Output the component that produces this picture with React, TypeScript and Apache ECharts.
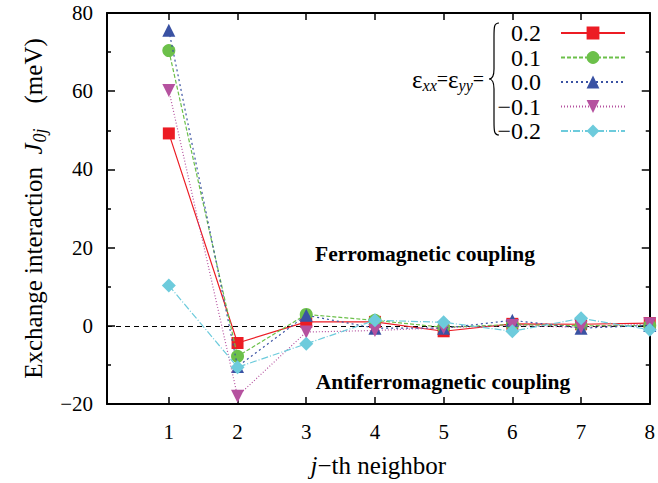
import React, { useEffect, useRef } from "react";
import * as echarts from "echarts";

const neighbors = [1, 2, 3, 4, 5, 6, 7, 8];
const strainLabels = ["0.2", "0.1", "0.0", "\u22120.1", "\u22120.2"];
const jStrainP02 = [49.2, -4.4, 1.0, 1.0, -1.4, 0.5, 0.4, 0.7];
const jStrainP01 = [70.4, -7.8, 2.9, 1.4, -0.4, 0.3, 0.0, 0.1];
const jStrain00 = [75.6, -10.4, 2.7, -0.6, -0.6, 1.4, -0.6, 0.1];
const jStrainM01 = [60.2, -18.0, -1.6, -1.2, -0.5, 0.1, -0.4, 0.5];
const jStrainM02 = [10.3, -10.6, -4.6, 1.4, 0.9, -1.4, 1.9, -1.0];
const xTicks = [1, 2, 3, 4, 5, 6, 7, 8];

const FONT = "Liberation Serif";

const seriesStyles = [
  { color: "#ec1c24", symbol: "rect", size: 12, rotate: 0, dash: "solid" as any },
  { color: "#6cc04a", symbol: "circle", size: 13, rotate: 0, dash: [4, 2] },
  { color: "#3a52a3", symbol: "triangle", size: 13, rotate: 0, dash: [2, 3] },
  { color: "#b5529f", symbol: "triangle", size: 13, rotate: 180, dash: [1, 2] },
  { color: "#6dcbdc", symbol: "diamond", size: 14, rotate: 0, dash: [7, 2, 1, 2] },
];

let braceRegistered = false;
function registerBrace() {
  if (braceRegistered) return;
  const d =
    "M10,0 C5,0 5,4 5,14 L5,46 C5,52 3,56 0,56 C3,56 5,60 5,66 L5,98 C5,108 5,112 10,112";
  echarts.graphic.registerShape("brace", (echarts.graphic as any).extendPath(d, {}));
  braceRegistered = true;
}

export default function App() {
  const ref = useRef<HTMLDivElement>(null);
  useEffect(() => {
    if (!ref.current) return;
    registerBrace();
    const chart = echarts.init(ref.current, null, { renderer: "svg" });
    const allData = [jStrainP02, jStrainP01, jStrain00, jStrainM01, jStrainM02];
    const series: any[] = allData.map((vals, i) => {
      const st = seriesStyles[i];
      const s: any = {
        name: strainLabels[i],
        type: "line",
        xAxisIndex: 0,
        yAxisIndex: 0,
        data: neighbors.map((n, k) => [n, vals[k]]),
        symbol: st.symbol,
        symbolSize: st.size,
        symbolRotate: st.rotate,
        lineStyle: { color: st.color, width: 1.2, type: st.dash },
        itemStyle: { color: st.color },
        z: 3 + i,
      };
      if (i === 0) {
        s.markLine = {
          silent: true,
          symbol: ["none", "none"],
          label: { show: false },
          lineStyle: { color: "#000", type: [5, 4], width: 1.2 },
          data: [{ yAxis: 0 }],
          z: 1,
        };
      }
      return s;
    });

    const axisLineStyle = { color: "#000", width: 2 };
    const tickStyle = { color: "#000", width: 1.5 };

    chart.setOption({
      animation: false,
      textStyle: { fontFamily: FONT },
      grid: { left: 107, right: 4, top: 13, bottom: 79 },
      xAxis: [
        {
          type: "value",
          min: 0.1,
          max: 8,
          position: "bottom",
          axisLine: { show: true, onZero: false, lineStyle: axisLineStyle },
          axisTick: { show: true, inside: true, length: 7, lineStyle: tickStyle, customValues: xTicks },
          axisLabel: {
            show: true,
            customValues: xTicks,
            margin: 17,
            fontFamily: FONT,
            fontSize: 21,
            color: "#000",
          },
          splitLine: { show: false },
          name: "{i|j}{n|\u2212th neighbor}",
          nameLocation: "middle",
          nameGap: 49,
          nameTextStyle: {
            fontFamily: FONT,
            rich: {
              i: { fontFamily: FONT, fontSize: 25, fontStyle: "italic", color: "#000" },
              n: { fontFamily: FONT, fontSize: 25, color: "#000" },
            },
          },
        },
        {
          type: "value",
          min: 0.1,
          max: 8,
          position: "top",
          axisLine: { show: true, onZero: false, lineStyle: axisLineStyle },
          axisTick: { show: true, inside: true, length: 7, lineStyle: tickStyle, customValues: xTicks },
          axisLabel: { show: false },
          splitLine: { show: false },
        },
      ],
      yAxis: [
        {
          type: "value",
          min: -20,
          max: 80,
          interval: 20,
          position: "left",
          axisLine: { show: true, onZero: false, lineStyle: axisLineStyle },
          axisTick: { show: true, inside: true, length: 8, lineStyle: tickStyle },
          minorTick: { show: true, splitNumber: 2, length: 4, lineStyle: tickStyle },
          axisLabel: {
            margin: 14,
            fontFamily: FONT,
            fontSize: 21,
            color: "#000",
            formatter: (v: number) => String(v).replace("-", "\u2212"),
          },
          splitLine: { show: false },
          name: "{t|Exchange interaction  }{j|J}{s|0j}{t|    (meV)}",
          nameLocation: "middle",
          nameGap: 52,
          nameRotate: 90,
          nameTextStyle: {
            fontFamily: FONT,
            rich: {
              t: { fontFamily: FONT, fontSize: 25, color: "#000" },
              j: { fontFamily: FONT, fontSize: 25, fontStyle: "italic", color: "#000" },
              s: {
                fontFamily: FONT,
                fontSize: 18,
                fontStyle: "italic",
                color: "#000",
                padding: [13, 0, 0, 1],
              },
            },
          },
        },
        {
          type: "value",
          min: -20,
          max: 80,
          interval: 20,
          position: "right",
          axisLine: { show: true, onZero: false, lineStyle: axisLineStyle },
          axisTick: { show: true, inside: true, length: 8, lineStyle: tickStyle },
          minorTick: { show: true, splitNumber: 2, length: 4, lineStyle: tickStyle },
          axisLabel: { show: false },
          splitLine: { show: false },
        },
      ],
      legend: {
        orient: "vertical",
        right: 27,
        top: 16,
        align: "right",
        itemWidth: 64,
        itemHeight: 16,
        itemGap: 0.5,
        padding: 5,
        data: strainLabels,
        formatter: (name: string) => `{v|${name}}{s| }`,
        textStyle: {
          fontFamily: FONT,
          rich: {
            v: { width: 50, align: "right", fontFamily: FONT, fontSize: 24, color: "#000", lineHeight: 23 },
            s: { width: 15, fontSize: 10, fontFamily: FONT },
          },
        },
      },
      graphic: [
        {
          type: "brace",
          x: 489,
          y: 23,
          scaleX: 1,
          scaleY: 1,
          style: { stroke: "#000", fill: "none", lineWidth: 1.2 },
        },
        {
          type: "text",
          x: 484,
          y: 79,
          style: {
            text: "{e|\u03b5}{s|xx}{o|=}{e|\u03b5}{s|yy}{o|=}",
            align: "right",
            verticalAlign: "middle",
            fontFamily: FONT,
            rich: {
              e: { fontFamily: FONT, fontSize: 25, fill: "#000" },
              s: { fontFamily: FONT, fontSize: 16, fontStyle: "italic", fill: "#000", padding: [12, 0, 0, 0] },
              o: { fontFamily: FONT, fontSize: 20, fill: "#000" },
            },
          },
        },
        {
          type: "text",
          x: 425,
          y: 254,
          style: {
            text: "Ferromagnetic coupling",
            align: "center",
            verticalAlign: "middle",
            fontFamily: FONT,
            fontSize: 21.5,
            fontWeight: "bold",
            fill: "#000",
          },
        },
        {
          type: "text",
          x: 443,
          y: 382,
          style: {
            text: "Antiferromagnetic coupling",
            align: "center",
            verticalAlign: "middle",
            fontFamily: FONT,
            fontSize: 21.5,
            fontWeight: "bold",
            fill: "#000",
          },
        },
      ],
      series,
    });
    return () => chart.dispose();
  }, []);
  return (
    <div
      ref={ref}
      style={{ position: "absolute", left: 0, top: 0, width: 658, height: 483 }}
    />
  );
}
